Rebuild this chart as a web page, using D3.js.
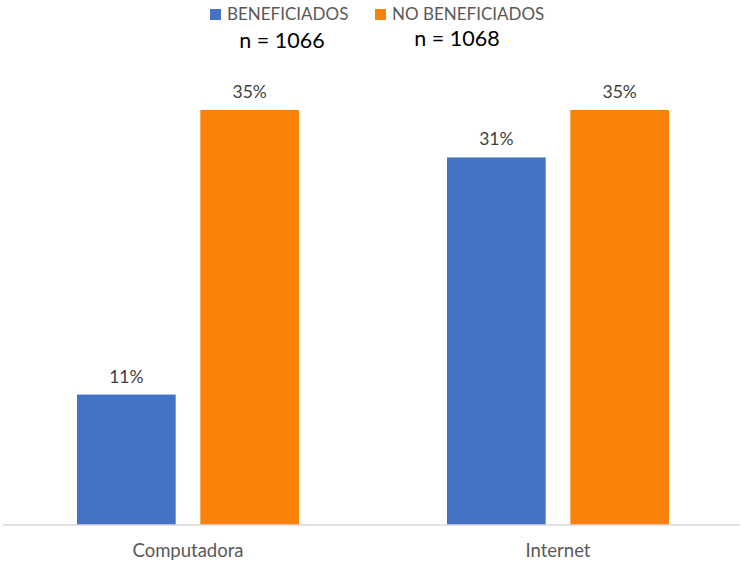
<!DOCTYPE html>
<html>
<head>
<meta charset="utf-8">
<script src="https://cdn.jsdelivr.net/npm/d3@7"></script>
<style>
  html, body { margin: 0; padding: 0; background: #fff; }
  svg { display: block; font-family: Lato, "Open Sans", sans-serif; }
</style>
</head>
<body>
<svg id="chart" width="743" height="564"></svg>
<script>
// Share of respondents by group (percent)
const categories = ["Computadora", "Internet"];
const seriesNames = ["BENEFICIADOS", "NO BENEFICIADOS"];
const sampleSizes = ["n = 1066", "n = 1068"];
const beneficiados = [11, 31];
const noBeneficiados = [35, 35];
const colors = ["#4472C4", "#FB8209"];

const svg = d3.select("#chart");
const W = 743, H = 564;
const margin = { top: 60, right: 0, bottom: 39, left: 3 };
const baseline = H - margin.bottom;

const x0 = d3.scaleBand()
  .domain(categories)
  .range([margin.left, W])
  .paddingInner(0)
  .paddingOuter(0);

const x1 = d3.scaleBand()
  .domain(seriesNames)
  .range([0, x0.bandwidth()])
  .paddingInner(0.2)
  .paddingOuter(0.6);

const y = d3.scaleLinear()
  .domain([0, 35])
  .range([baseline, baseline - 415]);

const rows = categories.map((c, i) => ({
  category: c,
  values: [
    { key: seriesNames[0], value: beneficiados[i], color: colors[0] },
    { key: seriesNames[1], value: noBeneficiados[i], color: colors[1] }
  ]
}));

const groups = svg.selectAll("g.cat")
  .data(rows)
  .join("g")
  .attr("class", "cat")
  .attr("transform", d => `translate(${x0(d.category)},0)`);

groups.selectAll("rect")
  .data(d => d.values)
  .join("rect")
  .attr("x", d => x1(d.key))
  .attr("width", x1.bandwidth())
  .attr("y", d => y(d.value))
  .attr("height", d => baseline - y(d.value))
  .attr("fill", d => d.color);

groups.selectAll("text.val")
  .data(d => d.values)
  .join("text")
  .attr("class", "val")
  .attr("x", d => x1(d.key) + x1.bandwidth() / 2)
  .attr("y", d => y(d.value) - 12)
  .attr("text-anchor", "middle")
  .attr("font-size", 17.5)
  .attr("fill", "#404040")
  .text(d => d.value + "%");

// Category axis
const xAxis = svg.append("g")
  .attr("transform", `translate(0,${baseline})`)
  .call(d3.axisBottom(x0).tickSize(0).tickPadding(19));
xAxis.select(".domain").attr("stroke", "#D9D9D9").attr("stroke-width", 1.3)
  .attr("d", `M${margin.left},0H${W - 3}`);
xAxis.selectAll("text")
  .attr("font-family", "Lato, 'Open Sans', sans-serif")
  .attr("font-size", 18.5)
  .attr("fill", "#595959");

// Legend with sample sizes
const legendItems = [
  { name: seriesNames[0], color: colors[0], sx: 210, tx: 227, n: sampleSizes[0], nx: 282, ny: 48 },
  { name: seriesNames[1], color: colors[1], sx: 375, tx: 392, n: sampleSizes[1], nx: 457, ny: 46 }
];
const legend = svg.append("g");
legend.selectAll("rect")
  .data(legendItems)
  .join("rect")
  .attr("x", d => d.sx)
  .attr("y", 9)
  .attr("width", 11)
  .attr("height", 11)
  .attr("fill", d => d.color);
legend.selectAll("text.name")
  .data(legendItems)
  .join("text")
  .attr("class", "name")
  .attr("x", d => d.tx)
  .attr("y", 20)
  .attr("font-size", 17)
  .attr("fill", "#595959")
  .text(d => d.name);
legend.selectAll("text.n")
  .data(legendItems)
  .join("text")
  .attr("class", "n")
  .attr("x", d => d.nx)
  .attr("y", d => d.ny)
  .attr("text-anchor", "middle")
  .attr("font-size", 21.5)
  .attr("fill", "#000")
  .text(d => d.n);
</script>
</body>
</html>
